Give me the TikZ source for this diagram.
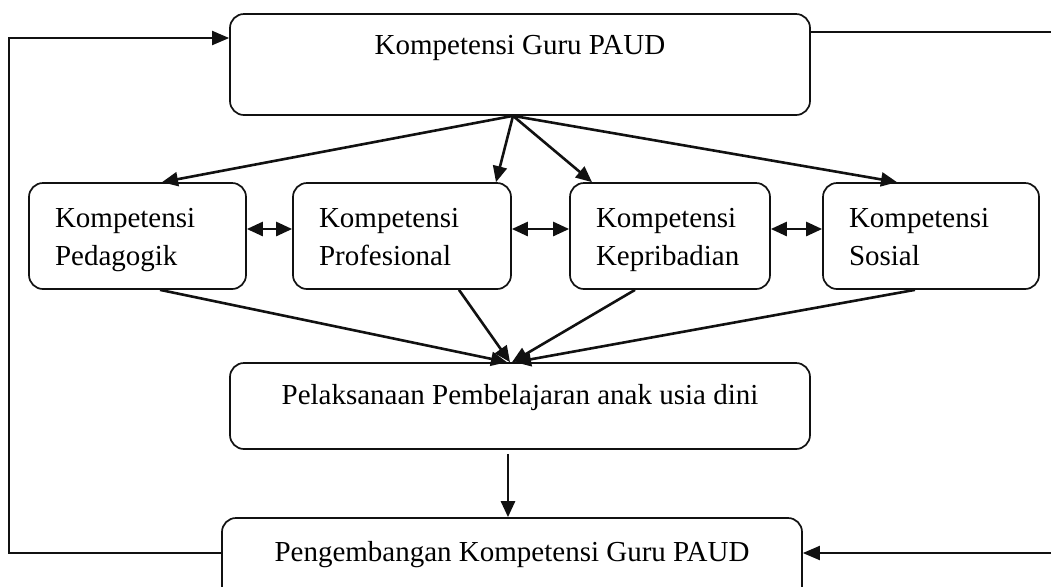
\documentclass[tikz,border=0pt]{standalone}
\usepackage{fontspec}
\setmainfont{Liberation Serif}
\usetikzlibrary{arrows.meta,calc,positioning}
\definecolor{kgInk}{HTML}{111111}
\tikzset{
  kbox/.style={draw=kgInk,line width=0.85pt,rounded corners=7pt,fill=white,inner xsep=13pt,inner ysep=0pt,
    font=\fontsize{14.5}{19}\selectfont},
  kcol/.style={kbox,align=left,minimum height=53pt,text height=10pt,text depth=19pt},
  karr/.style={kgInk,line width=1.3pt,-{Triangle[length=8pt,width=7pt]}},
  kfb/.style={kgInk,line width=1pt,-{Triangle[length=8.5pt,width=7pt]}},
}
\begin{document}
\begin{tikzpicture}[x=0.5pt,y=-0.5pt]
\useasboundingbox (0,0) rectangle (1051,586);
\node[kbox,minimum width=290pt,minimum height=50.5pt,text height=10pt,text depth=19.9pt] (guru) at (520,64.5) {Kompetensi Guru PAUD};
\node[kcol,minimum width=108.5pt,text width=82.5pt] (ped) at (137.5,236) {Kompetensi\\Pedagogik};
\node[kcol,minimum width=109pt,text width=83pt] (prof) at (402,236) {Kompetensi\\Profesional};
\node[kcol,minimum width=100pt,text width=74pt] (kep) at (670,236) {Kompetensi\\Kepribadian};
\node[kcol,minimum width=108pt,text width=82pt] (sos) at (931,236) {Kompetensi\\Sosial};
\node[kbox,minimum width=290pt,minimum height=43pt,text height=10pt,text depth=11.4pt] (pel) at (520,406) {Pelaksanaan Pembelajaran anak usia dini};
\node[kbox,minimum width=290pt,minimum height=46pt,text height=10pt,text depth=12.4pt] (peng) at (512,564) {Pengembangan Kompetensi Guru PAUD};
\coordinate (fan) at ($(guru.south)+(-7,0)$);
\foreach \n/\d in {ped/24.5,prof/94,kep/-78,sos/-34}
  \draw[karr] (fan) -- ($(\n.north)+(\d,0)$);
\foreach \a/\b in {ped/prof,prof/kep,kep/sos}
  \draw[karr,{Triangle[length=8pt,width=7pt]}-{Triangle[length=8pt,width=7pt]}] ($(\a.east)+(0,-7)$) -- ($(\b.west)+(0,-7)$);
\foreach \n/\s/\d in {ped/22.5/-13,prof/57/-10,kep/-35/-8,sos/-16/-5}
  \draw[karr] ($(\n.south)+(\s,0)$) -- ($(pel.north)+(\d,0)$);
\draw[karr] ($(pel.south)+(-12,4)$) coordinate (pd) -- (pd |- peng.north);
\coordinate (lft) at (9,0);
\coordinate (rgt) at (1062,0);
\draw[kfb] ($(peng.west)+(0,-11)$) coordinate (pl) -- (pl -| lft) |- ($(guru.west)+(0,-26.5)$);
\draw[kfb] ($(guru.east)+(0,-32.5)$) coordinate (gr) -- (gr -| rgt) |- ($(peng.east)+(0,-11)$);
\end{tikzpicture}
\end{document}
